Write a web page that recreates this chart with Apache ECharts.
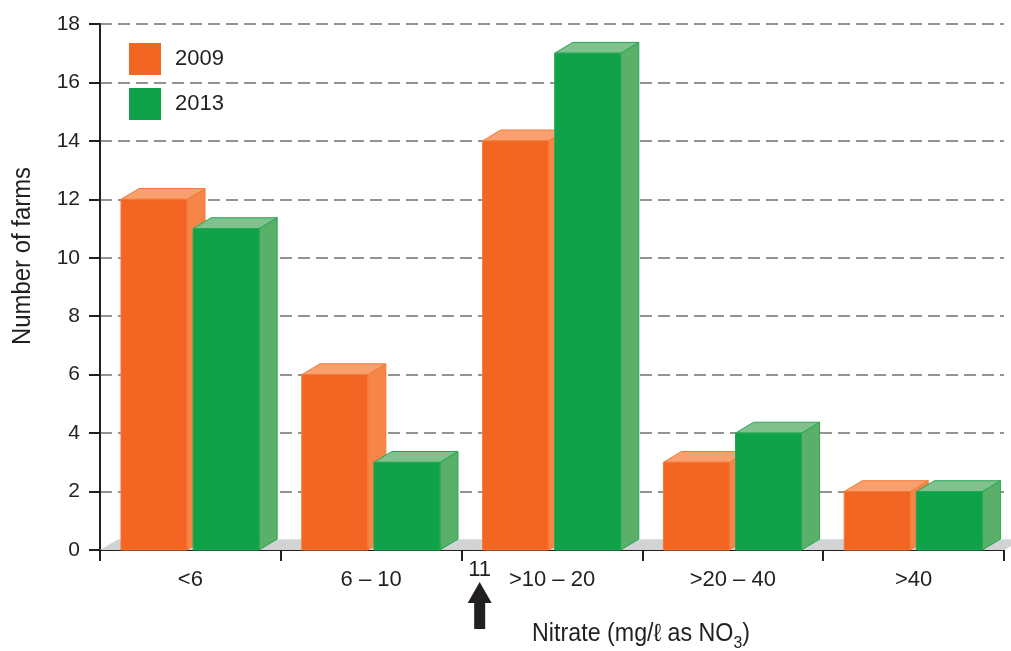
<!DOCTYPE html>
<html>
<head>
<meta charset="utf-8">
<script src="https://cdn.jsdelivr.net/npm/echarts@6/dist/echarts.min.js"></script>
<style>
  html, body { margin: 0; padding: 0; background: #fff; }
  #chart { width: 1011px; height: 651px; }
</style>
</head>
<body>
<div id="chart"></div>
<script>
// Nitrate classes and number of farms per class
const categories = ['<6', '6 – 10', '>10 – 20', '>20 – 40', '>40'];
const farms2009 = [12, 6, 14, 3, 2];
const farms2013 = [11, 3, 17, 4, 2];
const yTicks = { min: 0, max: 18, interval: 2 };
const thresholdLabel = '11';
const thresholdCategory = 2; // marker sits at the lower edge of this class

const FONT = '"Liberation Sans", Arial, Helvetica, sans-serif';
const INK = '#231F20';

const palette = {
  '2009': { front: '#F26522', top: '#F9A06E', side: '#F58648', edge: '#F47A36' },
  '2013': { front: '#10A249', top: '#80C18D', side: '#5AB069', edge: '#23A755' }
};

// depth of the pseudo-3D extrusion, as a share of the category width
const DEPTH = 0.1;
const RISE = 0.6;

function barRenderer(colors, slotOffset) {
  return function (params, api) {
    const idx = api.value(0);
    const val = api.value(1);
    const base = api.coord([idx, 0]);
    const top = api.coord([idx, val]);
    const bw = api.size([1, 0])[0];
    const left = base[0] - bw / 2;
    const x = left + bw * slotOffset;
    const w = bw * 0.365;
    const dx = bw * DEPTH;
    const dy = dx * RISE;
    const y0 = base[1];
    const y1 = top[1];
    const edge = { stroke: colors.edge, lineWidth: 1 };
    return {
      type: 'group',
      children: [
        { type: 'polygon', shape: { points: [[x + w, y0], [x + w + dx, y0 - dy], [x + w + dx, y1 - dy], [x + w, y1]] },
          style: Object.assign({ fill: colors.side }, edge) },
        { type: 'polygon', shape: { points: [[x, y1], [x + w, y1], [x + w + dx, y1 - dy], [x + dx, y1 - dy]] },
          style: Object.assign({ fill: colors.top }, edge) },
        { type: 'rect', shape: { x: x, y: y1, width: w, height: y0 - y1 },
          style: Object.assign({ fill: colors.front }, edge) }
      ]
    };
  };
}

function floorRenderer(params, api) {
  const idx = api.value(0);
  const base = api.coord([idx, 0]);
  const bw = api.size([1, 0])[0];
  const l = base[0] - bw / 2, r = base[0] + bw / 2;
  const dx = bw * DEPTH, dy = dx * RISE, y0 = base[1];
  return {
    type: 'polygon',
    shape: { points: [[l, y0], [r + 0.5, y0], [r + dx + 0.5, y0 - dy], [l + dx, y0 - dy]] },
    style: { fill: '#D1D3D4' }
  };
}

function thresholdRenderer(params, api) {
  const idx = api.value(0);
  const base = api.coord([idx, 0]);
  const bw = api.size([1, 0])[0];
  const x = base[0] - bw / 2 + bw * 0.1;
  const y0 = base[1];
  return {
    type: 'group',
    children: [
      { type: 'text', x: x, y: y0 + 20,
        style: { text: thresholdLabel, font: '22px ' + FONT, fill: INK,
                 align: 'center', verticalAlign: 'middle' } },
      { type: 'polygon',
        shape: { points: [[x, y0 + 32], [x + 12, y0 + 53], [x + 5.5, y0 + 53], [x + 5.5, y0 + 79],
                          [x - 5.5, y0 + 79], [x - 5.5, y0 + 53], [x - 12, y0 + 53]] },
        style: { fill: INK } }
    ]
  };
}

const chart = echarts.init(document.getElementById('chart'), null, { renderer: 'canvas' });

chart.setOption({
  animation: false,
  backgroundColor: '#ffffff',
  textStyle: { fontFamily: FONT },
  grid: { left: 100, right: 7, top: 24, bottom: 101, containLabel: false },
  legend: {
    left: 129, top: 43, orient: 'vertical',
    itemWidth: 32, itemHeight: 32, itemGap: 13,
    icon: 'rect',
    padding: 0,
    data: ['2009', '2013'],
    textStyle: { fontSize: 22, color: INK, fontFamily: FONT, padding: [0, 0, 0, 9] }
  },
  xAxis: {
    type: 'category',
    data: categories,
    boundaryGap: true,
    axisLine: { lineStyle: { color: INK, width: 2 } },
    axisTick: { show: true, length: 11, lineStyle: { color: INK, width: 2 } },
    axisLabel: { fontSize: 22, color: INK, margin: 19, fontFamily: FONT },
    splitLine: { show: false }
  },
  yAxis: {
    type: 'value',
    min: yTicks.min, max: yTicks.max, interval: yTicks.interval,
    axisLine: { show: true, lineStyle: { color: INK, width: 2 } },
    axisTick: { show: true, length: 11, lineStyle: { color: INK, width: 2 } },
    axisLabel: { fontSize: 21, color: INK, margin: 20, fontFamily: FONT },
    splitLine: { show: true, lineStyle: { color: '#707070', width: 1.5, type: [12, 6] } }
  },
  graphic: [
    { type: 'text', x: 23, y: 256, rotation: Math.PI / 2, scaleX: 0.92,
      style: { text: 'Number of farms', font: '26px ' + FONT, fill: INK, align: 'center', verticalAlign: 'middle' } },
    { type: 'text', x: 641, y: 634, scaleX: 0.93,
      style: { text: 'Nitrate (mg/ℓ as NO{sub|3})', font: '25px ' + FONT, fill: INK,
               align: 'center', verticalAlign: 'middle',
               rich: { sub: { fontSize: 17, fontFamily: FONT, padding: [18, 0, 0, 0] } } } }
  ],
  series: [
    { type: 'custom', name: 'floor', z: 1, silent: true,
      data: categories.map((c, i) => [i]), renderItem: floorRenderer },
    { type: 'custom', name: '2009', z: 2, itemStyle: { color: palette['2009'].front },
      data: farms2009.map((v, i) => [i, v]), renderItem: barRenderer(palette['2009'], 0.116) },
    { type: 'custom', name: '2013', z: 3, itemStyle: { color: palette['2013'].front },
      data: farms2013.map((v, i) => [i, v]), renderItem: barRenderer(palette['2013'], 0.515) },
    { type: 'custom', name: 'threshold', z: 4, silent: true,
      data: [[thresholdCategory, 0]], renderItem: thresholdRenderer }
  ]
});
</script>
</body>
</html>
